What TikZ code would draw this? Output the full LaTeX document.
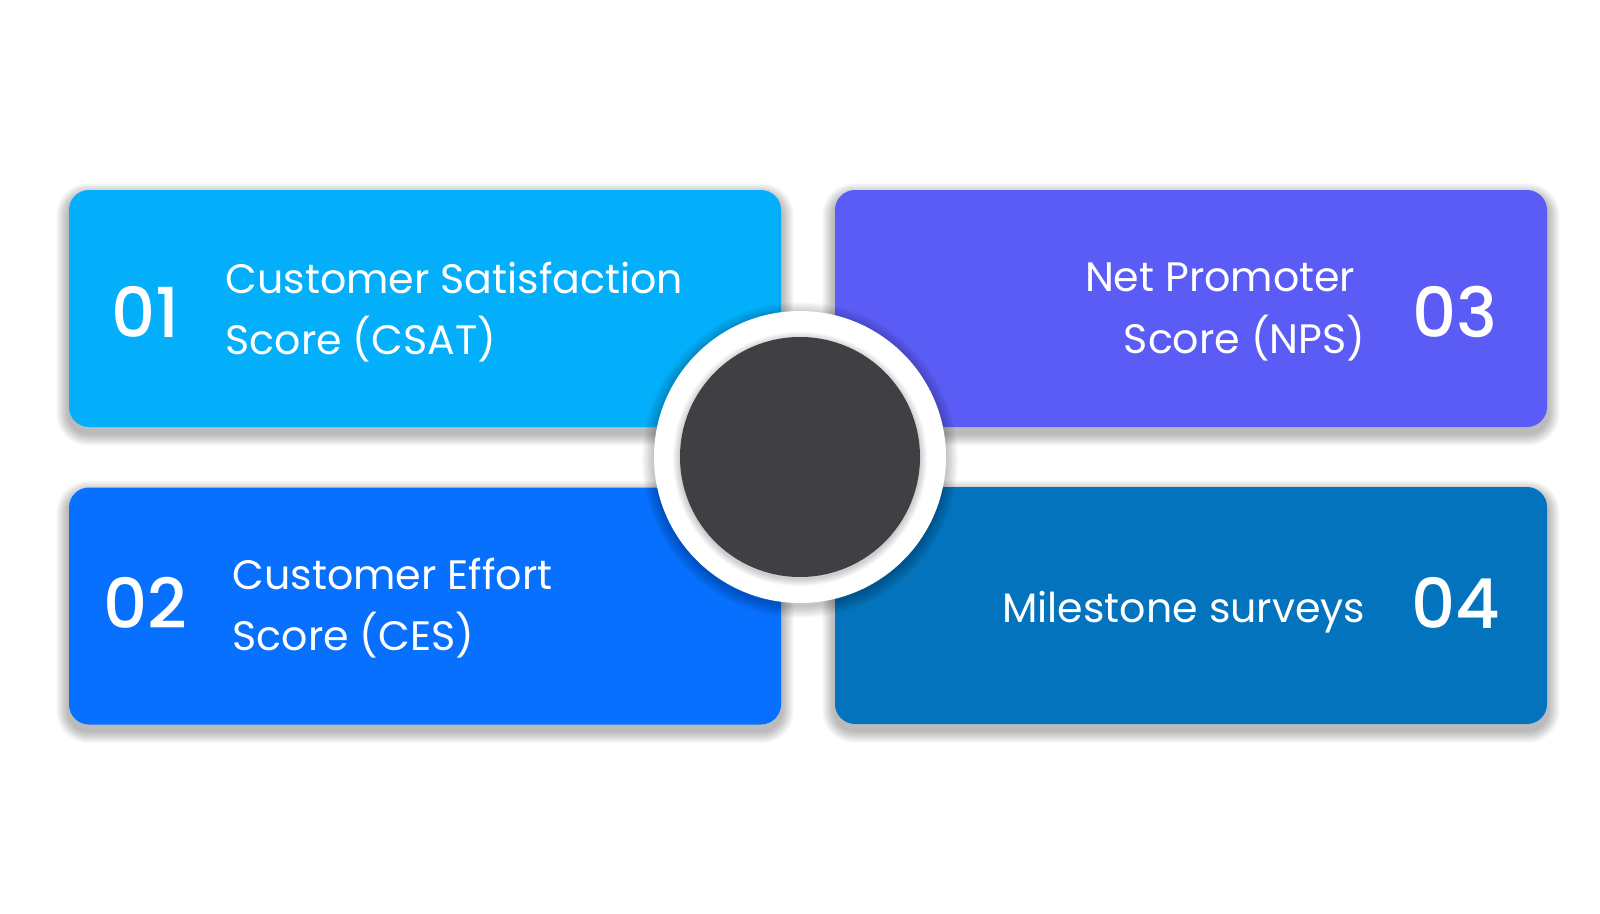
\documentclass[tikz,border=0pt]{standalone}
\usepackage{fontspec}
\setmainfont{Poppins}
\newfontfamily\numfont{Poppins Medium}
\usetikzlibrary{backgrounds}
\begin{document}
\begin{tikzpicture}[x=0.1mm, y=-0.1mm,
                    card/.style={rounded corners=2mm, minimum width=71.2mm, minimum height=23.7mm, inner sep=0pt},
                    haze/.style={black, opacity=0.025},
                    num/.style={text=white, font=\numfont\fontsize{19.6}{19.6}\selectfont, inner sep=0pt},
                    lbl/.style={text=white, font=\fontsize{11.7}{17.4}\selectfont, inner sep=0pt}]
                    \definecolor{cardA}{RGB}{3, 174, 250}   % Light blue
                    \definecolor{cardB}{RGB}{8, 112, 254}   % Blue
                    \definecolor{cardC}{RGB}{91, 92, 245}   % Violet
                    \definecolor{cardD}{RGB}{4, 115, 189}   % Dark blue
                    \definecolor{hubC}{RGB}{64, 63, 68}     % Grey

                    \useasboundingbox (0, 0) rectangle (1600, 914);

                    % Cards
                    \node[card, fill=cardA] (csat) at (425, 308.5) {};
                    \node[card, fill=cardB] (ces)  at (425, 606) {};
                    \node[card, fill=cardC] (nps)  at (1191, 308.5) {};
                    \node[card, fill=cardD] (mile) at (1191, 605.5) {};

                    % Soft shadows under the cards
                    \begin{scope}[on background layer]
                        \fill[white] (0, 0) rectangle (1600, 914);
                        \foreach \c in {csat, ces, nps, mile}
                            \foreach \i in {1,...,12}
                                \fill[haze, rounded corners=2mm+\i*0.1mm]
                                    ([xshift=-\i*0.1mm, yshift=-0.6mm-\i*0.1mm]\c.south west)
                                    rectangle ([xshift=\i*0.1mm, yshift=-0.6mm+\i*0.1mm]\c.north east);
                    \end{scope}

                    % Hub
                    \foreach \i in {1,...,10}
                        \fill[haze] ([yshift=-0.3mm]800, 457) circle (14.6mm+\i*0.12mm);
                    \node[circle, fill=white, minimum size=29.2mm, inner sep=0pt] (ring) at (800, 457) {};
                    \foreach \i in {1,...,8}
                        \fill[haze] ([yshift=-0.2mm]ring.center) circle (12mm+\i*0.09mm);
                    \node[circle, fill=hubC, minimum size=24mm, inner sep=0pt] (hub) at (ring.center) {};

                    % Numbers
                    \node[num, anchor=base west] (n1) at (111, 337) {01};
                    \node[num, anchor=base west] (n2) at (103, 628) {02};
                    \node[num, anchor=base east] (n3) at (1498, 337) {03};
                    \node[num, anchor=base east] (n4) at (1501, 628) {04};

                    % Labels
                    \node[lbl, anchor=west, align=left] (t1) at (225, 312) {Customer Satisfaction\\Score (CSAT)};
                    \node[lbl, anchor=west, align=left] (t2) at (232, 608) {Customer Effort\\Score (CES)};
                    \node[lbl, anchor=east, align=right] (t3) at (1366, 312) {Net Promoter\kern1mm\\Score (NPS)};
                    \node[lbl, anchor=base east] (t4) at (1366, 622) {Milestone surveys};
\end{tikzpicture}
\end{document}
